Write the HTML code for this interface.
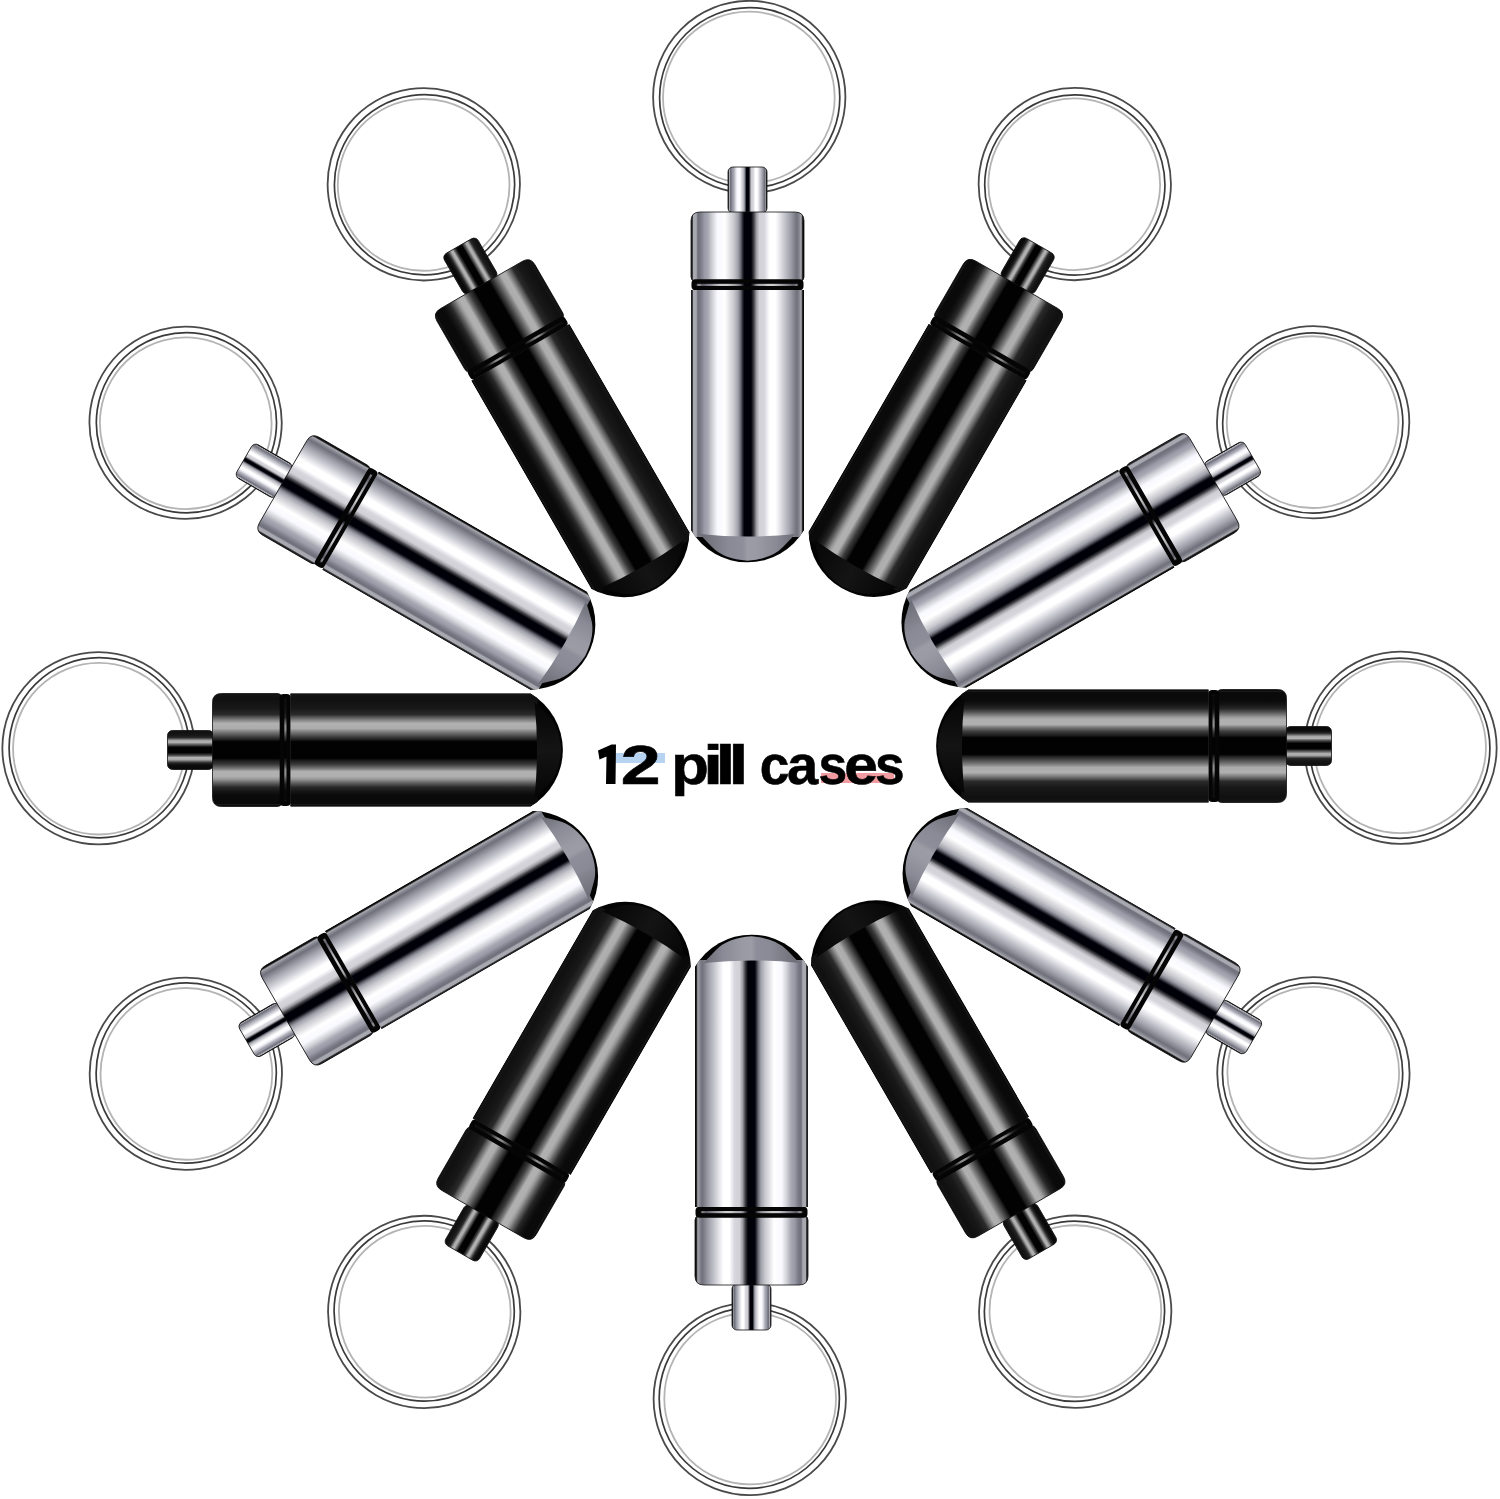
<!DOCTYPE html>
<html><head><meta charset="utf-8"><style>
html,body{margin:0;padding:0;background:#fff;}
body{width:1500px;height:1499px;overflow:hidden;position:relative;}
svg{position:absolute;left:0;top:0;}
</style></head><body>
<svg width="1500" height="1499" viewBox="0 0 1500 1499">
<defs>
<linearGradient id="gS" x1="0" y1="0" x2="1" y2="0"><stop offset="0.0" stop-color="#181818"/><stop offset="0.012" stop-color="#2a2a2e"/><stop offset="0.022" stop-color="#a8a8b0"/><stop offset="0.046" stop-color="#a8a8b0"/><stop offset="0.06" stop-color="#70707c"/><stop offset="0.08" stop-color="#767682"/><stop offset="0.12" stop-color="#9a9aa8"/><stop offset="0.15" stop-color="#a8a8b4"/><stop offset="0.187" stop-color="#d0d0d6"/><stop offset="0.233" stop-color="#f8f8ff"/><stop offset="0.3" stop-color="#ffffff"/><stop offset="0.322" stop-color="#f0f0f2"/><stop offset="0.379" stop-color="#c8c8ce"/><stop offset="0.417" stop-color="#a0a0aa"/><stop offset="0.44" stop-color="#6a6a74"/><stop offset="0.46" stop-color="#202028"/><stop offset="0.472" stop-color="#000008"/><stop offset="0.532" stop-color="#000008"/><stop offset="0.555" stop-color="#404044"/><stop offset="0.578" stop-color="#9a9aa0"/><stop offset="0.605" stop-color="#d0d0d6"/><stop offset="0.65" stop-color="#d6d6dc"/><stop offset="0.67" stop-color="#e8e8ee"/><stop offset="0.695" stop-color="#ffffff"/><stop offset="0.748" stop-color="#ffffff"/><stop offset="0.77" stop-color="#f0f0f4"/><stop offset="0.824" stop-color="#c8c8d0"/><stop offset="0.88" stop-color="#a0a0aa"/><stop offset="0.937" stop-color="#70707c"/><stop offset="0.96" stop-color="#8a8a94"/><stop offset="0.975" stop-color="#a8a8b0"/><stop offset="0.988" stop-color="#181818"/><stop offset="1.0" stop-color="#000"/></linearGradient>
<linearGradient id="gB" x1="0" y1="0" x2="1" y2="0"><stop offset="0.0" stop-color="#000"/><stop offset="0.017" stop-color="#1a1a1a"/><stop offset="0.024" stop-color="#0a0a0a"/><stop offset="0.097" stop-color="#0a0a0a"/><stop offset="0.134" stop-color="#151515"/><stop offset="0.17" stop-color="#282828"/><stop offset="0.207" stop-color="#5e5e5e"/><stop offset="0.244" stop-color="#9a9a9a"/><stop offset="0.268" stop-color="#b0b0b0"/><stop offset="0.31" stop-color="#b0b0b0"/><stop offset="0.335" stop-color="#7a7a7a"/><stop offset="0.373" stop-color="#3a3a3a"/><stop offset="0.409" stop-color="#1a1a1a"/><stop offset="0.425" stop-color="#020202"/><stop offset="0.574" stop-color="#020202"/><stop offset="0.593" stop-color="#202020"/><stop offset="0.629" stop-color="#505050"/><stop offset="0.666" stop-color="#848484"/><stop offset="0.69" stop-color="#acacac"/><stop offset="0.735" stop-color="#b0b0b0"/><stop offset="0.76" stop-color="#8a8a8a"/><stop offset="0.794" stop-color="#505050"/><stop offset="0.813" stop-color="#2a2a2a"/><stop offset="0.87" stop-color="#181818"/><stop offset="0.955" stop-color="#101010"/><stop offset="0.99" stop-color="#151515"/><stop offset="1.0" stop-color="#000"/></linearGradient>
<linearGradient id="oS" x1="0" y1="0" x2="1" y2="0"><stop offset="0" stop-color="#000"/><stop offset="0.1" stop-color="#333"/><stop offset="0.25" stop-color="#9a9a9a"/><stop offset="0.4" stop-color="#555"/><stop offset="0.47" stop-color="#000"/><stop offset="0.53" stop-color="#000"/><stop offset="0.6" stop-color="#555"/><stop offset="0.72" stop-color="#a0a0a0"/><stop offset="0.88" stop-color="#444"/><stop offset="1" stop-color="#000"/></linearGradient>
<linearGradient id="oB" x1="0" y1="0" x2="1" y2="0"><stop offset="0" stop-color="#000"/><stop offset="0.1" stop-color="#111"/><stop offset="0.25" stop-color="#444"/><stop offset="0.4" stop-color="#222"/><stop offset="0.47" stop-color="#000"/><stop offset="0.53" stop-color="#000"/><stop offset="0.6" stop-color="#222"/><stop offset="0.72" stop-color="#444"/><stop offset="0.88" stop-color="#111"/><stop offset="1" stop-color="#000"/></linearGradient>
<linearGradient id="fS" x1="0" y1="0" x2="1" y2="0">
 <stop offset="0" stop-color="#6a6a74"/><stop offset="0.3" stop-color="#8a8a96"/><stop offset="0.45" stop-color="#8e8e9a"/>
 <stop offset="0.5" stop-color="#9c9ca6"/><stop offset="0.6" stop-color="#9a9aa4"/><stop offset="0.8" stop-color="#8a8a96"/><stop offset="1" stop-color="#6a6a74"/>
</linearGradient>
<linearGradient id="fB" x1="0" y1="0" x2="1" y2="0">
 <stop offset="0" stop-color="#050505"/><stop offset="0.5" stop-color="#141414"/><stop offset="1" stop-color="#050505"/>
</linearGradient>
<clipPath id="cp"><path d="M-58.5,-470 L-58.5,-219 A65.5,65.5 0 0 0 54.5,-219 L54.5,-470 Z"/></clipPath>
</defs>
<g transform="translate(749.5,748.0) rotate(0)">
<circle cx="-0.25" cy="-651" r="96.15" fill="none" stroke="#4a4a4a" stroke-width="1.8"/>
<circle cx="0.2" cy="-650.3" r="90.1" fill="none" stroke="#3a3a3a" stroke-width="1.7"/>
<circle cx="-0.65" cy="-650.6" r="85.85" fill="none" stroke="#b4b4b4" stroke-width="1.8"/>
<g transform="translate(0,1.0)">
<rect x="-21.5" y="-582" width="39" height="46" rx="5" fill="url(#gS)" stroke="#111" stroke-width="0.8"/>
<path d="M-58.5,-528 Q-58.5,-537 -49.5,-537 L45.5,-537 Q54.5,-537 54.5,-528 L54.5,-472 Q54.5,-468 50.5,-468 L-54.5,-468 Q-58.5,-468 -58.5,-472 Z" fill="url(#gS)" stroke="#111" stroke-width="0.8"/>
<rect x="-58" y="-469.8" width="112" height="11" rx="4" fill="#050505"/>
<rect x="-54" y="-465.2" width="104" height="2.2" fill="url(#gS)" opacity="0.8"/>
<path d="M-58.5,-459 L-58.5,-219 A65.5,65.5 0 0 0 54.5,-219 L54.5,-459 Z" fill="#030303"/>
<rect x="-58.5" y="-459" width="113" height="247" fill="url(#gS)" clip-path="url(#cp)"/>
<path d="M-50,-215 Q-2,-210 46,-215 L33.5,-202 Q22,-190 -2,-188.3 Q-26,-190 -37.5,-202 Z" fill="url(#fS)"/>
</g>
</g><g transform="translate(749.5,748.0) rotate(30)">
<circle cx="-0.25" cy="-651" r="96.15" fill="none" stroke="#4a4a4a" stroke-width="1.8"/>
<circle cx="0.2" cy="-650.3" r="90.1" fill="none" stroke="#3a3a3a" stroke-width="1.7"/>
<circle cx="-0.65" cy="-650.6" r="85.85" fill="none" stroke="#b4b4b4" stroke-width="1.8"/>
<g transform="translate(1.7,2.2)">
<rect x="-21.5" y="-582" width="39" height="46" rx="5" fill="url(#gB)" stroke="#111" stroke-width="0.8"/>
<path d="M-58.5,-528 Q-58.5,-537 -49.5,-537 L45.5,-537 Q54.5,-537 54.5,-528 L54.5,-472 Q54.5,-468 50.5,-468 L-54.5,-468 Q-58.5,-468 -58.5,-472 Z" fill="url(#gB)" stroke="#111" stroke-width="0.8"/>
<rect x="-58" y="-469.8" width="112" height="11" rx="4" fill="#050505"/>
<rect x="-54" y="-465.2" width="104" height="2.2" fill="url(#gB)" opacity="0.8"/>
<path d="M-58.5,-459 L-58.5,-219 A65.5,65.5 0 0 0 54.5,-219 L54.5,-459 Z" fill="#030303"/>
<rect x="-58.5" y="-459" width="113" height="247" fill="url(#gB)" clip-path="url(#cp)"/>
<path d="M-50,-215 Q-2,-210 46,-215 L33.5,-202 Q22,-190 -2,-188.3 Q-26,-190 -37.5,-202 Z" fill="url(#fB)"/>
</g>
</g><g transform="translate(749.5,748.0) rotate(60)">
<circle cx="-0.25" cy="-651" r="96.15" fill="none" stroke="#4a4a4a" stroke-width="1.8"/>
<circle cx="0.2" cy="-650.3" r="90.1" fill="none" stroke="#3a3a3a" stroke-width="1.7"/>
<circle cx="-0.65" cy="-650.6" r="85.85" fill="none" stroke="#b4b4b4" stroke-width="1.8"/>
<g transform="translate(1.7,0.9)">
<rect x="-21.5" y="-582" width="39" height="46" rx="5" fill="url(#gS)" stroke="#111" stroke-width="0.8"/>
<path d="M-58.5,-528 Q-58.5,-537 -49.5,-537 L45.5,-537 Q54.5,-537 54.5,-528 L54.5,-472 Q54.5,-468 50.5,-468 L-54.5,-468 Q-58.5,-468 -58.5,-472 Z" fill="url(#gS)" stroke="#111" stroke-width="0.8"/>
<rect x="-58" y="-469.8" width="112" height="11" rx="4" fill="#050505"/>
<rect x="-54" y="-465.2" width="104" height="2.2" fill="url(#gS)" opacity="0.8"/>
<path d="M-58.5,-459 L-58.5,-219 A65.5,65.5 0 0 0 54.5,-219 L54.5,-459 Z" fill="#030303"/>
<rect x="-58.5" y="-459" width="113" height="247" fill="url(#gS)" clip-path="url(#cp)"/>
<path d="M-50,-215 Q-2,-210 46,-215 L33.5,-202 Q22,-190 -2,-188.3 Q-26,-190 -37.5,-202 Z" fill="url(#fS)"/>
</g>
</g><g transform="translate(749.5,748.0) rotate(90)">
<circle cx="-0.25" cy="-651" r="96.15" fill="none" stroke="#4a4a4a" stroke-width="1.8"/>
<circle cx="0.2" cy="-650.3" r="90.1" fill="none" stroke="#3a3a3a" stroke-width="1.7"/>
<circle cx="-0.65" cy="-650.6" r="85.85" fill="none" stroke="#b4b4b4" stroke-width="1.8"/>
<g transform="translate(0,0)">
<rect x="-21.5" y="-582" width="39" height="46" rx="5" fill="url(#gB)" stroke="#111" stroke-width="0.8"/>
<path d="M-58.5,-528 Q-58.5,-537 -49.5,-537 L45.5,-537 Q54.5,-537 54.5,-528 L54.5,-472 Q54.5,-468 50.5,-468 L-54.5,-468 Q-58.5,-468 -58.5,-472 Z" fill="url(#gB)" stroke="#111" stroke-width="0.8"/>
<rect x="-58" y="-469.8" width="112" height="11" rx="4" fill="#050505"/>
<rect x="-54" y="-465.2" width="104" height="2.2" fill="url(#gB)" opacity="0.8"/>
<path d="M-58.5,-459 L-58.5,-219 A65.5,65.5 0 0 0 54.5,-219 L54.5,-459 Z" fill="#030303"/>
<rect x="-58.5" y="-459" width="113" height="247" fill="url(#gB)" clip-path="url(#cp)"/>
<path d="M-50,-215 Q-2,-210 46,-215 L33.5,-202 Q22,-190 -2,-188.3 Q-26,-190 -37.5,-202 Z" fill="url(#fB)"/>
</g>
</g><g transform="translate(749.5,748.0) rotate(120)">
<circle cx="-0.25" cy="-651" r="96.15" fill="none" stroke="#4a4a4a" stroke-width="1.8"/>
<circle cx="0.2" cy="-650.3" r="90.1" fill="none" stroke="#3a3a3a" stroke-width="1.7"/>
<circle cx="-0.65" cy="-650.6" r="85.85" fill="none" stroke="#b4b4b4" stroke-width="1.8"/>
<g transform="translate(1.6,0)">
<rect x="-21.5" y="-582" width="39" height="46" rx="5" fill="url(#gS)" stroke="#111" stroke-width="0.8"/>
<path d="M-58.5,-528 Q-58.5,-537 -49.5,-537 L45.5,-537 Q54.5,-537 54.5,-528 L54.5,-472 Q54.5,-468 50.5,-468 L-54.5,-468 Q-58.5,-468 -58.5,-472 Z" fill="url(#gS)" stroke="#111" stroke-width="0.8"/>
<rect x="-58" y="-469.8" width="112" height="11" rx="4" fill="#050505"/>
<rect x="-54" y="-465.2" width="104" height="2.2" fill="url(#gS)" opacity="0.8"/>
<path d="M-58.5,-459 L-58.5,-219 A65.5,65.5 0 0 0 54.5,-219 L54.5,-459 Z" fill="#030303"/>
<rect x="-58.5" y="-459" width="113" height="247" fill="url(#gS)" clip-path="url(#cp)"/>
<path d="M-50,-215 Q-2,-210 46,-215 L33.5,-202 Q22,-190 -2,-188.3 Q-26,-190 -37.5,-202 Z" fill="url(#fS)"/>
</g>
</g><g transform="translate(749.5,748.0) rotate(150)">
<circle cx="-0.25" cy="-651" r="96.15" fill="none" stroke="#4a4a4a" stroke-width="1.8"/>
<circle cx="0.2" cy="-650.3" r="90.1" fill="none" stroke="#3a3a3a" stroke-width="1.7"/>
<circle cx="-0.65" cy="-650.6" r="85.85" fill="none" stroke="#b4b4b4" stroke-width="1.8"/>
<g transform="translate(0.9,0)">
<rect x="-21.5" y="-582" width="39" height="46" rx="5" fill="url(#gB)" stroke="#111" stroke-width="0.8"/>
<path d="M-58.5,-528 Q-58.5,-537 -49.5,-537 L45.5,-537 Q54.5,-537 54.5,-528 L54.5,-472 Q54.5,-468 50.5,-468 L-54.5,-468 Q-58.5,-468 -58.5,-472 Z" fill="url(#gB)" stroke="#111" stroke-width="0.8"/>
<rect x="-58" y="-469.8" width="112" height="11" rx="4" fill="#050505"/>
<rect x="-54" y="-465.2" width="104" height="2.2" fill="url(#gB)" opacity="0.8"/>
<path d="M-58.5,-459 L-58.5,-219 A65.5,65.5 0 0 0 54.5,-219 L54.5,-459 Z" fill="#030303"/>
<rect x="-58.5" y="-459" width="113" height="247" fill="url(#gB)" clip-path="url(#cp)"/>
<path d="M-50,-215 Q-2,-210 46,-215 L33.5,-202 Q22,-190 -2,-188.3 Q-26,-190 -37.5,-202 Z" fill="url(#fB)"/>
</g>
</g><g transform="translate(749.5,748.0) rotate(180)">
<circle cx="-0.25" cy="-651" r="96.15" fill="none" stroke="#4a4a4a" stroke-width="1.8"/>
<circle cx="0.2" cy="-650.3" r="90.1" fill="none" stroke="#3a3a3a" stroke-width="1.7"/>
<circle cx="-0.65" cy="-650.6" r="85.85" fill="none" stroke="#b4b4b4" stroke-width="1.8"/>
<g transform="translate(0,0)">
<rect x="-21.5" y="-582" width="39" height="46" rx="5" fill="url(#gS)" stroke="#111" stroke-width="0.8"/>
<path d="M-58.5,-528 Q-58.5,-537 -49.5,-537 L45.5,-537 Q54.5,-537 54.5,-528 L54.5,-472 Q54.5,-468 50.5,-468 L-54.5,-468 Q-58.5,-468 -58.5,-472 Z" fill="url(#gS)" stroke="#111" stroke-width="0.8"/>
<rect x="-58" y="-469.8" width="112" height="11" rx="4" fill="#050505"/>
<rect x="-54" y="-465.2" width="104" height="2.2" fill="url(#gS)" opacity="0.8"/>
<path d="M-58.5,-459 L-58.5,-219 A65.5,65.5 0 0 0 54.5,-219 L54.5,-459 Z" fill="#030303"/>
<rect x="-58.5" y="-459" width="113" height="247" fill="url(#gS)" clip-path="url(#cp)"/>
<path d="M-50,-215 Q-2,-210 46,-215 L33.5,-202 Q22,-190 -2,-188.3 Q-26,-190 -37.5,-202 Z" fill="url(#fS)"/>
</g>
</g><g transform="translate(749.5,748.0) rotate(210)">
<circle cx="-0.25" cy="-651" r="96.15" fill="none" stroke="#4a4a4a" stroke-width="1.8"/>
<circle cx="0.2" cy="-650.3" r="90.1" fill="none" stroke="#3a3a3a" stroke-width="1.7"/>
<circle cx="-0.65" cy="-650.6" r="85.85" fill="none" stroke="#b4b4b4" stroke-width="1.8"/>
<g transform="translate(0,0)">
<rect x="-21.5" y="-582" width="39" height="46" rx="5" fill="url(#gB)" stroke="#111" stroke-width="0.8"/>
<path d="M-58.5,-528 Q-58.5,-537 -49.5,-537 L45.5,-537 Q54.5,-537 54.5,-528 L54.5,-472 Q54.5,-468 50.5,-468 L-54.5,-468 Q-58.5,-468 -58.5,-472 Z" fill="url(#gB)" stroke="#111" stroke-width="0.8"/>
<rect x="-58" y="-469.8" width="112" height="11" rx="4" fill="#050505"/>
<rect x="-54" y="-465.2" width="104" height="2.2" fill="url(#gB)" opacity="0.8"/>
<path d="M-58.5,-459 L-58.5,-219 A65.5,65.5 0 0 0 54.5,-219 L54.5,-459 Z" fill="#030303"/>
<rect x="-58.5" y="-459" width="113" height="247" fill="url(#gB)" clip-path="url(#cp)"/>
<path d="M-50,-215 Q-2,-210 46,-215 L33.5,-202 Q22,-190 -2,-188.3 Q-26,-190 -37.5,-202 Z" fill="url(#fB)"/>
</g>
</g><g transform="translate(749.5,748.0) rotate(240)">
<circle cx="-0.25" cy="-651" r="96.15" fill="none" stroke="#4a4a4a" stroke-width="1.8"/>
<circle cx="0.2" cy="-650.3" r="90.1" fill="none" stroke="#3a3a3a" stroke-width="1.7"/>
<circle cx="-0.65" cy="-650.6" r="85.85" fill="none" stroke="#b4b4b4" stroke-width="1.8"/>
<g transform="translate(-0.9,0)">
<rect x="-21.5" y="-582" width="39" height="46" rx="5" fill="url(#gS)" stroke="#111" stroke-width="0.8"/>
<path d="M-58.5,-528 Q-58.5,-537 -49.5,-537 L45.5,-537 Q54.5,-537 54.5,-528 L54.5,-472 Q54.5,-468 50.5,-468 L-54.5,-468 Q-58.5,-468 -58.5,-472 Z" fill="url(#gS)" stroke="#111" stroke-width="0.8"/>
<rect x="-58" y="-469.8" width="112" height="11" rx="4" fill="#050505"/>
<rect x="-54" y="-465.2" width="104" height="2.2" fill="url(#gS)" opacity="0.8"/>
<path d="M-58.5,-459 L-58.5,-219 A65.5,65.5 0 0 0 54.5,-219 L54.5,-459 Z" fill="#030303"/>
<rect x="-58.5" y="-459" width="113" height="247" fill="url(#gS)" clip-path="url(#cp)"/>
<path d="M-50,-215 Q-2,-210 46,-215 L33.5,-202 Q22,-190 -2,-188.3 Q-26,-190 -37.5,-202 Z" fill="url(#fS)"/>
</g>
</g><g transform="translate(749.5,748.0) rotate(270)">
<circle cx="-0.25" cy="-651" r="96.15" fill="none" stroke="#4a4a4a" stroke-width="1.8"/>
<circle cx="0.2" cy="-650.3" r="90.1" fill="none" stroke="#3a3a3a" stroke-width="1.7"/>
<circle cx="-0.65" cy="-650.6" r="85.85" fill="none" stroke="#b4b4b4" stroke-width="1.8"/>
<g transform="translate(0,0)">
<rect x="-21.5" y="-582" width="39" height="46" rx="5" fill="url(#gB)" stroke="#111" stroke-width="0.8"/>
<path d="M-58.5,-528 Q-58.5,-537 -49.5,-537 L45.5,-537 Q54.5,-537 54.5,-528 L54.5,-472 Q54.5,-468 50.5,-468 L-54.5,-468 Q-58.5,-468 -58.5,-472 Z" fill="url(#gB)" stroke="#111" stroke-width="0.8"/>
<rect x="-58" y="-469.8" width="112" height="11" rx="4" fill="#050505"/>
<rect x="-54" y="-465.2" width="104" height="2.2" fill="url(#gB)" opacity="0.8"/>
<path d="M-58.5,-459 L-58.5,-219 A65.5,65.5 0 0 0 54.5,-219 L54.5,-459 Z" fill="#030303"/>
<rect x="-58.5" y="-459" width="113" height="247" fill="url(#gB)" clip-path="url(#cp)"/>
<path d="M-50,-215 Q-2,-210 46,-215 L33.5,-202 Q22,-190 -2,-188.3 Q-26,-190 -37.5,-202 Z" fill="url(#fB)"/>
</g>
</g><g transform="translate(749.5,748.0) rotate(300)">
<circle cx="-0.25" cy="-651" r="96.15" fill="none" stroke="#4a4a4a" stroke-width="1.8"/>
<circle cx="0.2" cy="-650.3" r="90.1" fill="none" stroke="#3a3a3a" stroke-width="1.7"/>
<circle cx="-0.65" cy="-650.6" r="85.85" fill="none" stroke="#b4b4b4" stroke-width="1.8"/>
<g transform="translate(-0.6,0)">
<rect x="-21.5" y="-582" width="39" height="46" rx="5" fill="url(#gS)" stroke="#111" stroke-width="0.8"/>
<path d="M-58.5,-528 Q-58.5,-537 -49.5,-537 L45.5,-537 Q54.5,-537 54.5,-528 L54.5,-472 Q54.5,-468 50.5,-468 L-54.5,-468 Q-58.5,-468 -58.5,-472 Z" fill="url(#gS)" stroke="#111" stroke-width="0.8"/>
<rect x="-58" y="-469.8" width="112" height="11" rx="4" fill="#050505"/>
<rect x="-54" y="-465.2" width="104" height="2.2" fill="url(#gS)" opacity="0.8"/>
<path d="M-58.5,-459 L-58.5,-219 A65.5,65.5 0 0 0 54.5,-219 L54.5,-459 Z" fill="#030303"/>
<rect x="-58.5" y="-459" width="113" height="247" fill="url(#gS)" clip-path="url(#cp)"/>
<path d="M-50,-215 Q-2,-210 46,-215 L33.5,-202 Q22,-190 -2,-188.3 Q-26,-190 -37.5,-202 Z" fill="url(#fS)"/>
</g>
</g><g transform="translate(749.5,748.0) rotate(330)">
<circle cx="-0.25" cy="-651" r="96.15" fill="none" stroke="#4a4a4a" stroke-width="1.8"/>
<circle cx="0.2" cy="-650.3" r="90.1" fill="none" stroke="#3a3a3a" stroke-width="1.7"/>
<circle cx="-0.65" cy="-650.6" r="85.85" fill="none" stroke="#b4b4b4" stroke-width="1.8"/>
<g transform="translate(1.3,2.0)">
<rect x="-21.5" y="-582" width="39" height="46" rx="5" fill="url(#gB)" stroke="#111" stroke-width="0.8"/>
<path d="M-58.5,-528 Q-58.5,-537 -49.5,-537 L45.5,-537 Q54.5,-537 54.5,-528 L54.5,-472 Q54.5,-468 50.5,-468 L-54.5,-468 Q-58.5,-468 -58.5,-472 Z" fill="url(#gB)" stroke="#111" stroke-width="0.8"/>
<rect x="-58" y="-469.8" width="112" height="11" rx="4" fill="#050505"/>
<rect x="-54" y="-465.2" width="104" height="2.2" fill="url(#gB)" opacity="0.8"/>
<path d="M-58.5,-459 L-58.5,-219 A65.5,65.5 0 0 0 54.5,-219 L54.5,-459 Z" fill="#030303"/>
<rect x="-58.5" y="-459" width="113" height="247" fill="url(#gB)" clip-path="url(#cp)"/>
<path d="M-50,-215 Q-2,-210 46,-215 L33.5,-202 Q22,-190 -2,-188.3 Q-26,-190 -37.5,-202 Z" fill="url(#fB)"/>
</g>
</g>
<rect x="615" y="753" width="50" height="10" fill="#b6d3f2"/><rect x="821" y="773" width="73" height="10" fill="#f29ca2"/><g font-family="Liberation Sans, sans-serif" font-weight="bold" font-size="56" fill="#000" stroke="#000" stroke-width="0.6" opacity="0.999"><text transform="translate(640,783.5) scale(1.28,1)" x="-15" y="0">2</text><text transform="translate(690.5,783.5) scale(1.1,1)" x="-17.5" y="0">p</text><text transform="translate(712.7,783.5) scale(1.3,1)" x="-7.5" y="0">i</text><text transform="translate(724.9,783.5) scale(1.3,1)" x="-7.5" y="0">l</text><text transform="translate(738,783.5) scale(1.3,1)" x="-7.5" y="0">l</text><text transform="translate(774,783.5) scale(0.95,1)" x="-15" y="0">c</text><text transform="translate(802.9,783.5) scale(1.0,1)" x="-16" y="0">a</text><text transform="translate(832.2,783.5) scale(0.92,1)" x="-15" y="0">s</text><text transform="translate(860.4,783.5) scale(1.08,1)" x="-15" y="0">e</text><text transform="translate(889.3,783.5) scale(0.95,1)" x="-15" y="0">s</text></g><path d="M598,750.5 L611.5,744.5 L616,744.5 L615.5,784 L606,784 L606.5,756.5 L599.5,759.5 Z" fill="#000"/>
</svg>
</body></html>
